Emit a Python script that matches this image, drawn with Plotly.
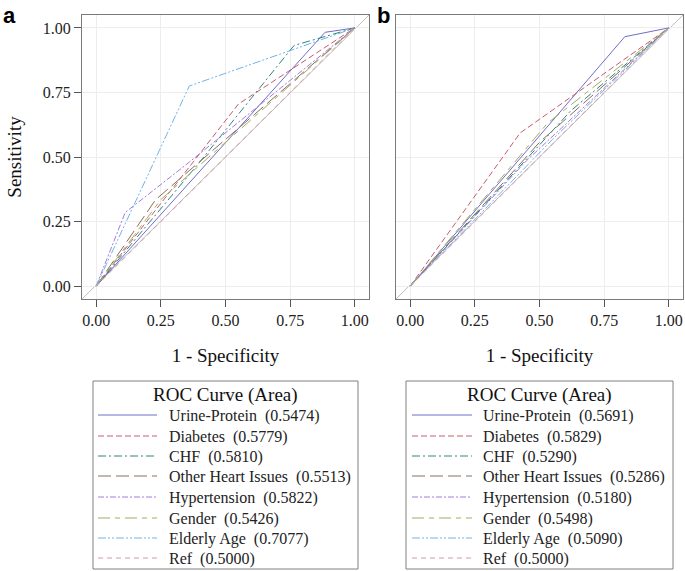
import plotly.graph_objects as go
from plotly.subplots import make_subplots

# ROC curves, one point list per predictor (false positive rate / true positive rate)
names = ["Urine-Protein", "Diabetes", "CHF", "Other Heart Issues",
         "Hypertension", "Gender", "Elderly Age", "Ref"]
auc_a = [0.5474, 0.5779, 0.5810, 0.5513, 0.5822, 0.5426, 0.7077, 0.5000]
auc_b = [0.5691, 0.5829, 0.5290, 0.5286, 0.5180, 0.5498, 0.5090, 0.5000]

fpr_a = [
    [0, 0.885, 1],
    [0, 0.55, 1],
    [0, 0.40, 0.765, 1],
    [0, 0.23, 1],
    [0, 0.112, 0.36, 1],
    [0, 0.25, 1],
    [0, 0.36, 1],
    [0, 1],
]
tpr_a = [
    [0, 0.983, 1],
    [0, 0.705, 1],
    [0, 0.48, 0.932, 1],
    [0, 0.335, 1],
    [0, 0.285, 0.48, 1],
    [0, 0.335, 1],
    [0, 0.775, 1],
    [0, 1],
]
fpr_b = [
    [0, 0.83, 1],
    [0, 0.425, 1],
    [0, 0.62, 1],
    [0, 0.50, 1],
    [0, 0.45, 1],
    [0, 0.53, 1],
    [0, 0.55, 1],
    [0, 1],
]
tpr_b = [
    [0, 0.966, 1],
    [0, 0.593, 1],
    [0, 0.678, 1],
    [0, 0.557, 1],
    [0, 0.486, 1],
    [0, 0.63, 1],
    [0, 0.568, 1],
    [0, 1],
]
ticks = [0, 0.25, 0.5, 0.75, 1]
tick_labels = ["0.00", "0.25", "0.50", "0.75", "1.00"]

colors = ["#6E6EC8", "#C45C6E", "#2F857C", "#86705C",
          "#A47CDC", "#A4AC5E", "#70B4E8", "#D49AA4"]
dashes = ["solid", "6px,3px", "8px,3px,2px,3px", "13px,5px",
          "6px,2px,2px,2px", "12px,5px,5px,5px",
          "8px,2px,2px,2px,2px,2px", "5px,4px"]

SERIF = "Liberation Serif"
W, H = 685, 571


def px(x):
    return x / W


def py(y):
    return 1 - y / H


fig = make_subplots(rows=1, cols=2)

for col, (fx, ty) in enumerate([(fpr_a, tpr_a), (fpr_b, tpr_b)], start=1):
    for i, name in enumerate(names):
        fig.add_trace(
            go.Scatter(
                x=fx[i], y=ty[i], mode="lines", name=name, showlegend=False,
                line=dict(color=colors[i], dash=dashes[i], width=1),
            ),
            row=1, col=col,
        )
    # chance diagonal across the whole frame
    sfx = "" if col == 1 else str(col)
    fig.add_shape(
        type="line", xref=f"x{sfx} domain", yref=f"y{sfx} domain",
        x0=0, y0=0, x1=1, y1=1, line=dict(color="#BDBDBD", width=1),
        layer="below",
    )

axis_common = dict(
    range=[-0.055, 1.055], tickvals=ticks, ticktext=tick_labels,
    showgrid=True, gridcolor="#EDEDED", gridwidth=1, zeroline=False,
    showline=True, linecolor="#7A7A7A", linewidth=1, mirror=True,
    ticks="outside", ticklen=7, tickcolor="#555555", automargin=False,
    tickfont=dict(family=SERIF, size=16, color="#222222"),
)
title_font = dict(family=SERIF, size=19, color="#111111")

fig.update_xaxes(axis_common)
fig.update_yaxes(axis_common, range=[-0.05, 1.05])
fig.update_xaxes(domain=[px(82), px(369)], row=1, col=1,
                 title=dict(text="1 - Specificity", standoff=20, font=title_font))
fig.update_xaxes(domain=[px(396), px(683)], row=1, col=2,
                 title=dict(text="1 - Specificity", standoff=20, font=title_font))
fig.update_yaxes(domain=[py(299), py(15)], row=1, col=1,
                 title=dict(text="Sensitivity", standoff=16, font=title_font))
fig.update_yaxes(domain=[py(299), py(15)], row=1, col=2,
                 showticklabels=False, ticks="")

# legend boxes drawn by hand so the row spacing matches
annotations = [
    dict(text="<b>a</b>", x=px(1), y=py(1), xanchor="left", yanchor="top",
         font=dict(family="Liberation Sans", size=22, color="black")),
    dict(text="<b>b</b>", x=px(375), y=py(1), xanchor="left", yanchor="top",
         font=dict(family="Liberation Sans", size=22, color="black")),
]
shapes = []
for aucs, (bx0, bx1), (sx0, sx1), tx in [
    (auc_a, (93, 358), (98, 157), 167),
    (auc_b, (406, 673), (412, 472), 481),
]:
    shapes.append(dict(type="rect", xref="paper", yref="paper",
                       x0=px(bx0), x1=px(bx1), y0=py(569), y1=py(381),
                       line=dict(color="#808080", width=1), fillcolor="white",
                       layer="above"))
    annotations.append(dict(text="ROC Curve (Area)", x=px((bx0 + bx1) / 2), y=py(395),
                            xanchor="center", yanchor="middle", font=title_font))
    for i, name in enumerate(names):
        ry = round(415 + i * 20.5)
        shapes.append(dict(type="line", xref="paper", yref="paper",
                           x0=px(sx0), x1=px(sx1), y0=py(ry), y1=py(ry),
                           line=dict(color=colors[i], dash=dashes[i], width=1),
                           layer="above"))
        annotations.append(dict(text=f"{name}\u00a0 ({aucs[i]:.4f})",
                                x=px(tx), y=py(ry + 1), xanchor="left", yanchor="middle",
                                font=dict(family=SERIF, size=16, color="#222222")))

for a in annotations:
    a.update(xref="paper", yref="paper", showarrow=False)
for s in shapes:
    fig.add_shape(s)

fig.update_layout(
    width=W, height=H,
    margin=dict(l=0, r=0, t=0, b=0),
    paper_bgcolor="white", plot_bgcolor="white",
    showlegend=False,
    annotations=annotations,
)

# the page body has a default 8px margin; drop it so the figure fills the window
fig.write_html("out.html", config={"displayModeBar": False},
               post_script="document.body.style.margin = '0';")
